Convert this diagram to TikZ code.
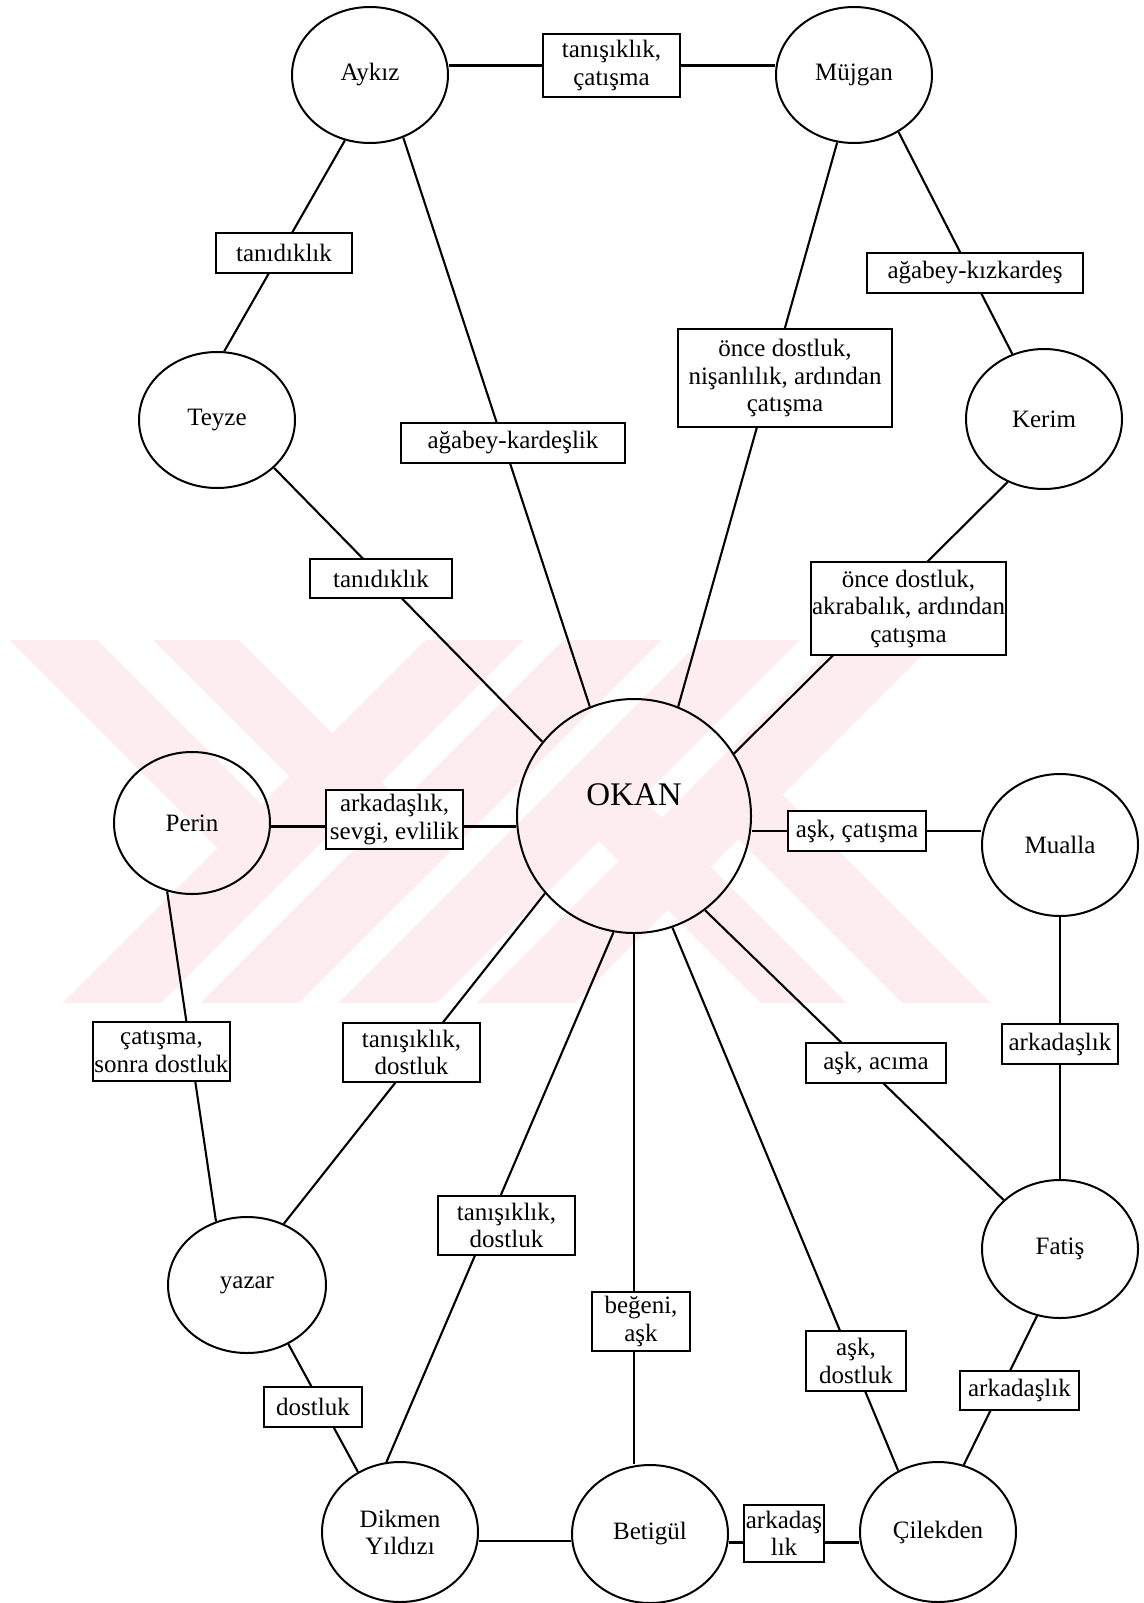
\documentclass[tikz,border=0pt]{standalone}
\usepackage{fontspec}
\setmainfont{Liberation Serif}
\usetikzlibrary{shapes.geometric}
\pgfdeclarelayer{wm}
\pgfdeclarelayer{edges}
\pgfsetlayers{wm,edges,main}
\definecolor{wmpink}{RGB}{253,237,240}

\begin{document}
\begin{tikzpicture}[x=1pt,y=-1pt,
  person/.style={ellipse, draw, line width=2pt, inner sep=0pt,
    minimum width=156pt, minimum height=136pt,
    font=\fontsize{25}{27}\selectfont, align=center},
  hub/.style={circle, draw, line width=2pt, inner sep=0pt, minimum size=234pt,
    font=\fontsize{33}{36}\selectfont, text height=22pt, text depth=44pt},
  rel/.style={rectangle, draw, line width=2pt, fill=white, inner sep=1pt,
    align=center, font=\fontsize{25}{27.5}\selectfont},
  link/.style={line width=2.1pt}]

\useasboundingbox (0,0) rectangle (1143,1603);

% faint emblem in the background
\begin{pgfonlayer}{wm}
\begin{scope}
\clip (9,640) rectangle (1017,1003);
\fill[wmpink] (425.5,640) -- (523.5,640) -- (160.5,1003) -- (62.5,1003) -- cycle;
\fill[wmpink] (563.5,640) -- (661.5,640) -- (298.5,1003) -- (200.5,1003) -- cycle;
\fill[wmpink] (701.5,640) -- (799.5,640) -- (436.5,1003) -- (338.5,1003) -- cycle;
\fill[wmpink] (839.5,640) -- (937.5,640) -- (574.5,1003) -- (476.5,1003) -- cycle;
\fill[wmpink] (9.5,640) -- (97.5,640) -- (310.5,853) -- (266.5,897) -- cycle;
\fill[wmpink] (153,640) -- (239,640) -- (450.25,851.25) -- (407.25,894.25) -- cycle;
\fill[wmpink] (990.5,1003) -- (902.5,1003) -- (689.5,790) -- (733.5,746) -- cycle;
\fill[wmpink] (847,1003) -- (761,1003) -- (549.75,791.75) -- (592.75,748.75) -- cycle;
\end{scope}
\end{pgfonlayer}

% characters
\node[person] (aykiz)    at (370,75)   {Aykız};
\node[person] (mujgan)   at (854,75)   {Müjgan};
\node[person] (teyze)    at (217,420)  {Teyze};
\node[person, minimum height=140pt] (kerim) at (1044,419) {Kerim};
\node[hub]    (okan)     at (634,816)  {OKAN};
\node[person, minimum height=142pt] (perin)  at (192,823)  {Perin};
\node[person, minimum height=142pt] (mualla) at (1060,845) {Mualla};
\node[person, minimum width=158pt] (yazar)  at (247,1285) {yazar};
\node[person, minimum height=138pt] (fatis)  at (1060,1249) {Fatiş};
\node[person, minimum height=140pt] (dikmen) at (400,1532) {Dikmen\\Yıldızı};
\node[person, minimum height=138pt] (betigul) at (650,1534) {Betigül};
\node[person, minimum height=140pt] (cilekden) at (938,1532) {Çilekden};

% relation labels
\node[rel, minimum width=137pt, minimum height=63pt] (bac) at (611.5,65.5) {tanışıklık,\\çatışma};
\node[rel, minimum width=136pt, minimum height=40pt] (bat) at (284,253) {tanıdıklık};
\node[rel, minimum width=224pt, minimum height=40pt] (bak) at (513,443) {ağabey-kardeşlik};
\node[rel, minimum width=214pt, minimum height=98pt] (bmo) at (785,378) {önce dostluk,\\nişanlılık, ardından\\çatışma};
\node[rel, minimum width=216pt, minimum height=40pt] (bmk) at (975,273) {ağabey-kızkardeş};
\node[rel, minimum width=193pt, minimum height=93pt] (bok) at (908.5,608.5) {önce dostluk,\\akrabalık, ardından\\çatışma};
\node[rel, minimum width=142pt, minimum height=39pt] (btt) at (381,578.5) {tanıdıklık};
\node[rel, minimum width=137pt, minimum height=59pt] (bpe) at (394.5,819.5) {arkadaşlık,\\sevgi, evlilik};
\node[rel, minimum width=138pt, minimum height=40pt] (bmu) at (857,831) {aşk, çatışma};
\node[rel, minimum width=137pt, minimum height=59pt] (bpy) at (161.5,1051.5) {çatışma,\\sonra dostluk};
\node[rel, minimum width=137pt, minimum height=59pt] (boy) at (411.5,1052.5) {tanışıklık,\\dostluk};
\node[rel, minimum width=137pt, minimum height=59pt] (bod) at (506.5,1225.5) {tanışıklık,\\dostluk};
\node[rel, minimum width=98pt, minimum height=40pt] (byd) at (313,1407) {dostluk};
\node[rel, minimum width=98pt, minimum height=59pt] (bob) at (641,1321.5) {beğeni,\\aşk};
\node[rel, minimum width=100pt, minimum height=60pt] (boc) at (856,1361) {aşk,\\dostluk};
\node[rel, minimum width=140pt, minimum height=40pt] (bof) at (876,1063) {aşk, acıma};
\node[rel, minimum width=116pt, minimum height=40pt] (bmf) at (1060,1044) {arkadaşlık};
\node[rel, minimum width=119pt, minimum height=39pt] (bfc) at (1019.5,1390.5) {arkadaşlık};
\node[rel, minimum width=80pt, minimum height=57pt] (bbc) at (784,1533.5) {arkadaş\\lık};

% connectors: each runs from one character to another and passes under its label
\begin{pgfonlayer}{edges}
\draw[link] (bac.west) -- (bac.west -| aykiz.east);
\draw[link] (bac.east) -- (bac.east -| mujgan.west);
\draw[link] (aykiz.249) -- (teyze.84);
\draw[link] (aykiz.298) -- (okan.112);
\draw[link] (mujgan.256) -- (okan.68);
\draw[link] (mujgan.308) -- (kerim.116);
\draw[link] (kerim.240) -- (okan.32);
\draw[link] (teyze.320) -- (okan.141);
\draw[link] ([yshift=-7pt]bpe.west) -- ([yshift=-7pt]bpe.west -| perin.east);
\draw[link] ([yshift=-7pt]bpe.east) -- ([yshift=-7pt]bpe.east -| okan.west);
\draw[link] (bmu.west) -- (bmu.west -| okan.east);
\draw[link] (bmu.east) -- (bmu.east -| mualla.west);
\draw[link] (perin.250) -- (yazar.116);
\draw[link] (okan.221) -- (yazar.59);
\draw[link] (okan.260) -- (dikmen.101);
\draw[link] (okan.south) -- (okan.south |- betigul.north);
\draw[link] (okan.289) -- (cilekden.123);
\draw[link] (okan.307) -- (fatis.139);
\draw[link] (mualla) -- (fatis);
\draw[link] (fatis.251) -- (cilekden.69);
\draw[link] (yazar.305) -- (dikmen.125);
\draw[link] ([yshift=-9pt]dikmen.east) -- ([yshift=-9pt]dikmen.east -| betigul.west);
\draw[link] ([yshift=-9pt]bbc.west) -- ([yshift=-9pt]bbc.west -| betigul.east);
\draw[link] ([yshift=-9pt]bbc.east) -- ([yshift=-9pt]bbc.east -| cilekden.west);
\end{pgfonlayer}
\end{tikzpicture}
\end{document}
